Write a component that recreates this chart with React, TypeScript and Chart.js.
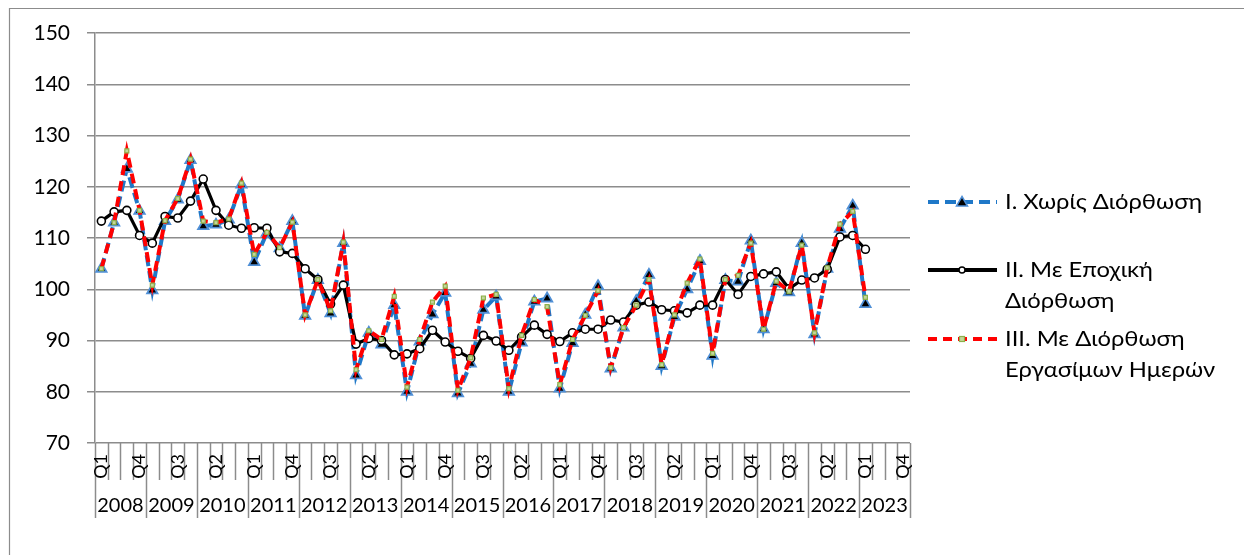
import React, { useEffect, useRef } from "react";
import { Chart, registerables } from "chart.js";

Chart.register(...registerables);

const years = ["2008", "2009", "2010", "2011", "2012", "2013", "2014", "2015", "2016", "2017", "2018", "2019", "2020", "2021", "2022", "2023"];
const quarters = ["Q1", "Q2", "Q3", "Q4"];
const categories = years.flatMap((y) => quarters.map((q) => `${y} ${q}`));

const seriesNames = ["I. Χωρίς Διόρθωση", "II. Με Εποχική Διόρθωση", "III. Με Διόρθωση Εργασίμων Ημερών"];

const unadjusted = [
  104.0, 113.0, 123.5, 115.3, 99.8, 113.3, 117.5, 125.2, 112.3, 112.6, 113.6, 120.4,
  105.3, 111.0, 108.0, 113.3, 94.8, 101.8, 95.3, 109.0, 83.2, 91.5, 89.2, 96.9,
  80.0, 89.8, 95.1, 99.3, 79.7, 85.5, 96.0, 98.6, 80.0, 89.6, 97.6, 98.2,
  80.6, 89.5, 95.0, 100.6, 84.5, 92.5, 97.7, 102.8, 85.0, 94.6, 100.0, 105.5,
  87.0, 101.8, 101.5, 109.5, 92.2, 101.2, 99.4, 109.0, 91.2, 104.0, 111.8, 116.3,
  97.1,
];
const seasonal = [
  113.3, 115.1, 115.4, 110.5, 109.0, 114.2, 113.9, 117.2, 121.5, 115.4, 112.5, 111.9,
  112.0, 111.9, 107.3, 107.0, 104.0, 101.9, 97.1, 100.8, 89.3, 90.4, 90.0, 87.2,
  87.4, 88.4, 92.0, 89.7, 87.9, 86.5, 91.0, 89.9, 88.1, 90.7, 93.0, 91.2,
  89.8, 91.5, 92.2, 92.2, 94.0, 93.6, 96.9, 97.5, 96.0, 95.8, 95.4, 96.9,
  96.9, 101.9, 99.0, 102.5, 103.0, 103.4, 100.1, 101.8, 102.2, 103.9, 110.2, 110.5,
  107.8,
];
const workingDay = [
  104.0, 113.0, 127.0, 115.4, 100.8, 113.4, 117.7, 125.4, 113.3, 113.0, 113.7, 120.7,
  106.8, 111.1, 108.1, 113.1, 95.0, 101.9, 95.8, 109.2, 84.3, 91.9, 90.2, 98.6,
  80.9, 90.2, 97.5, 100.6, 80.3, 86.6, 98.3, 99.0, 80.6, 91.0, 98.0, 96.6,
  81.4, 90.2, 94.9, 99.7, 84.7, 92.5, 96.9, 101.9, 85.3, 95.0, 101.2, 105.9,
  87.5, 101.9, 102.7, 109.0, 92.2, 101.6, 99.6, 108.6, 91.5, 104.2, 112.7, 115.2,
  98.4,
];
const yTicks = [70, 80, 90, 100, 110, 120, 130, 140, 150];

const FONT = "Lato, 'Noto Sans', sans-serif";
const GRID = "#8c8c8c";
const BLUE = "#1f78c8";
const RED = "#ff0000";

const framePlugin = {
  id: "frame",
  beforeDraw(chart: any) {
    const ctx = chart.ctx;
    ctx.save();
    ctx.strokeStyle = "#8c8c8c";
    ctx.lineWidth = 1.2;
    ctx.beginPath();
    ctx.moveTo(9.5, chart.height);
    ctx.lineTo(9.5, 8.5);
    ctx.lineTo(chart.width, 8.5);
    ctx.stroke();
    ctx.restore();
  },
};

const xAxisPlugin = {
  id: "xAxisGroups",
  afterDraw(chart: any) {
    const ctx = chart.ctx;
    const xs = chart.scales.x;
    const area = chart.chartArea;
    const n = categories.length;
    const catW = xs.getPixelForValue(1) - xs.getPixelForValue(0);
    const bound = (i: number) => xs.getPixelForValue(Math.min(i, n - 1)) + (i >= n ? catW / 2 : -catW / 2);
    const y0 = area.bottom;
    ctx.save();
    ctx.strokeStyle = GRID;
    ctx.lineWidth = 1.5;
    for (let i = 0; i <= n; i++) {
      const x = Math.round(bound(i)) + 0.5;
      ctx.beginPath();
      ctx.moveTo(x, y0);
      ctx.lineTo(x, y0 + (i % 4 === 0 ? 75 : 37));
      ctx.stroke();
    }
    ctx.fillStyle = "#000";
    ctx.font = `18px ${FONT}`;
    for (let i = 0; i < n; i += 3) {
      const x = xs.getPixelForValue(i);
      ctx.save();
      ctx.translate(x, y0 + 11);
      ctx.rotate(-Math.PI / 2);
      ctx.textAlign = "right";
      ctx.textBaseline = "middle";
      ctx.fillText(quarters[i % 4], 0, 0);
      ctx.restore();
    }
    ctx.font = `20px ${FONT}`;
    ctx.textAlign = "center";
    ctx.textBaseline = "middle";
    years.forEach((yr, j) => {
      const x = (bound(j * 4) + bound(j * 4 + 4)) / 2;
      ctx.fillText(yr, x, y0 + 63);
    });
    ctx.restore();
  },
};

function drawMarker(ctx: any, style: string, x: number, y: number) {
  ctx.save();
  if (style === "tri") {
    ctx.fillStyle = "#000";
    ctx.strokeStyle = "#4f8fd6";
    ctx.lineWidth = 1.5;
    ctx.beginPath();
    ctx.moveTo(x, y - 5.5);
    ctx.lineTo(x + 5.5, y + 4);
    ctx.lineTo(x - 5.5, y + 4);
    ctx.closePath();
    ctx.fill();
    ctx.stroke();
  } else if (style === "circ") {
    ctx.fillStyle = "#fff";
    ctx.strokeStyle = "#000";
    ctx.lineWidth = 1.5;
    ctx.beginPath();
    ctx.arc(x, y, 3, 0, Math.PI * 2);
    ctx.fill();
    ctx.stroke();
  } else {
    ctx.fillStyle = "#c3d69b";
    ctx.strokeStyle = "#8db04a";
    ctx.lineWidth = 1.2;
    ctx.fillRect(x - 2.5, y - 2.5, 5, 5);
    ctx.strokeRect(x - 2.5, y - 2.5, 5, 5);
  }
  ctx.restore();
}

const legendPlugin = {
  id: "customLegend",
  afterDraw(chart: any) {
    const ctx = chart.ctx;
    const entries = [
      { lines: ["I. Χωρίς Διόρθωση"], color: BLUE, dash: [11, 6], width: 4, marker: "tri", y: 202 },
      { lines: ["II. Με Εποχική", "Διόρθωση"], color: "#000", dash: [], width: 4, marker: "circ", y: 270 },
      { lines: ["III. Με Διόρθωση", "Εργασίμων Ημερών"], color: RED, dash: [9, 6], width: 4, marker: "sq", y: 339 },
    ];
    ctx.save();
    entries.forEach((e) => {
      ctx.strokeStyle = e.color;
      ctx.lineWidth = e.width;
      ctx.setLineDash(e.dash);
      ctx.beginPath();
      ctx.moveTo(928, e.y);
      ctx.lineTo(997, e.y);
      ctx.stroke();
      ctx.setLineDash([]);
      drawMarker(ctx, e.marker, 962, e.y);
      ctx.fillStyle = "#000";
      ctx.font = `22px ${FONT}`;
      ctx.textAlign = "left";
      ctx.textBaseline = "middle";
      e.lines.forEach((t, k) => {
        ctx.save();
        ctx.translate(1005, e.y + k * 31);
        ctx.scale(1.08, 1);
        ctx.fillText(t, 0, 0);
        ctx.restore();
      });
    });
    ctx.restore();
  },
};

export default function App() {
  const ref = useRef<HTMLCanvasElement>(null);
  useEffect(() => {
    if (!ref.current) return;
    const padded = (arr: number[]) => categories.map((_, i) => (i < arr.length ? arr[i] : null));
    const chart = new Chart(ref.current, {
      type: "line",
      data: {
        labels: categories,
        datasets: [
          {
            label: seriesNames[0],
            data: padded(unadjusted),
            borderColor: BLUE,
            borderWidth: 4,
            borderDash: [11, 5],
            pointStyle: "triangle",
            pointRadius: 6,
            pointBackgroundColor: "#000",
            pointBorderColor: "#4f8fd6",
            pointBorderWidth: 1.8,
            tension: 0,
            order: 2,
          },
          {
            label: seriesNames[1],
            data: padded(seasonal),
            borderColor: "#000",
            borderWidth: 3.2,
            pointStyle: "circle",
            pointRadius: 4,
            pointBackgroundColor: "#fff",
            pointBorderColor: "#000",
            pointBorderWidth: 1.6,
            tension: 0,
            order: 1,
          },
          {
            label: seriesNames[2],
            data: padded(workingDay),
            borderColor: RED,
            borderWidth: 4,
            borderDash: [10, 6],
            pointStyle: "rect",
            pointRadius: 2.8,
            pointBackgroundColor: "#c3d69b",
            pointBorderColor: "#8db04a",
            pointBorderWidth: 1.2,
            tension: 0,
            order: 0,
          },
        ],
      },
      options: {
        responsive: false,
        animation: false,
        events: [],
        layout: { padding: { top: 33, right: 334, left: 0, bottom: 0 } },
        plugins: { legend: { display: false }, tooltip: { enabled: false }, title: { display: false } },
        scales: {
          x: {
            type: "category",
            offset: true,
            ticks: { display: false },
            grid: { display: false },
            border: { display: false },
            afterFit: (s: any) => {
              s.height = 112;
            },
          },
          y: {
            min: 70,
            max: 150,
            afterBuildTicks: (s: any) => {
              s.ticks = yTicks.map((v) => ({ value: v }));
            },
            ticks: { color: "#000", font: { family: FONT, size: 21 }, padding: 17 },
            grid: { color: GRID, lineWidth: 1.5, tickLength: 8 },
            border: { color: GRID, width: 1.5 },
            afterFit: (s: any) => {
              s.width = 95;
            },
          },
        },
      },
      plugins: [framePlugin, xAxisPlugin, legendPlugin],
    });
    return () => chart.destroy();
  }, []);
  return (
    <div style={{ position: "fixed", left: 0, top: 0, width: 1244, height: 555, background: "#fff" }}>
      <canvas ref={ref} width={1244} height={555} style={{ display: "block" }} />
    </div>
  );
}
